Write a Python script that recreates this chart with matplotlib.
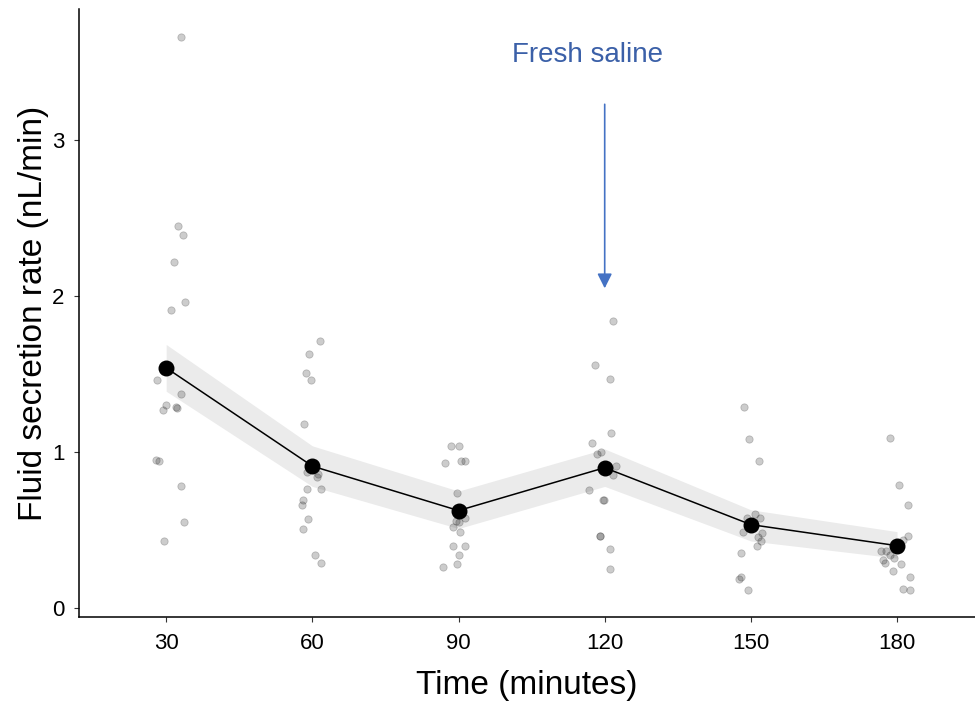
import matplotlib
matplotlib.use("Agg")
import matplotlib.pyplot as plt
import numpy as np

plt.rcParams['font.family'] = ['Liberation Sans', 'DejaVu Sans']

# time points (minutes)
times = [30, 60, 90, 120, 150, 180]

raw_30 = [(3.1, 3.66), (2.4, 2.45), (3.5, 2.39), (1.6, 2.22), (3.8, 1.96), (0.9, 1.91),
          (-1.9, 1.46), (3.1, 1.37), (0.0, 1.30), (-0.6, 1.27), (2.1, 1.29), (2.3, 1.28),
          (-2.0, 0.95), (-1.5, 0.945), (3.1, 0.78), (3.7, 0.55), (-0.4, 0.43)]
raw_60 = [(1.6, 1.71), (-0.6, 1.63), (-1.4, 1.51), (-0.3, 1.46), (-1.8, 1.18),
          (-1.0, 0.87), (1.2, 0.86), (1.0, 0.84), (-1.1, 0.765), (1.8, 0.765),
          (-2.0, 0.69), (-2.2, 0.66), (-0.9, 0.57), (-1.9, 0.505), (0.5, 0.34), (1.8, 0.29)]
raw_90 = [(-1.6, 1.04), (0.0, 1.04), (-2.7, 0.93), (0.6, 0.94), (1.3, 0.945),
          (-0.3, 0.74), (-0.6, 0.56), (0.0, 0.55), (1.3, 0.575), (-1.1, 0.52),
          (0.3, 0.49), (-1.2, 0.40), (1.4, 0.40), (0.0, 0.34), (-0.3, 0.285), (-3.2, 0.26)]
raw_120 = [(1.8, 1.84), (-1.9, 1.56), (1.1, 1.47), (1.3, 1.12), (-2.6, 1.06),
           (-1.6, 0.99), (-0.7, 1.0), (2.4, 0.91), (1.8, 0.85), (-3.2, 0.76),
           (-0.4, 0.69), (-0.2, 0.695), (-1.0, 0.46), (-0.9, 0.465), (1.1, 0.38), (1.1, 0.25)]
raw_150 = [(-1.5, 1.29), (-0.4, 1.085), (1.7, 0.94), (0.8, 0.60), (1.9, 0.575),
           (-0.8, 0.575), (-1.6, 0.485), (2.3, 0.48), (1.4, 0.455), (2.0, 0.43),
           (1.2, 0.395), (-2.0, 0.35), (-2.0, 0.20), (-2.5, 0.185), (-0.6, 0.115)]
raw_180 = [(-1.5, 1.09), (0.4, 0.79), (2.3, 0.66), (2.2, 0.46), (1.2, 0.435),
           (-3.2, 0.365), (-2.2, 0.365), (-1.5, 0.34), (-0.6, 0.32), (-2.9, 0.31),
           (-2.4, 0.29), (0.8, 0.28), (-0.9, 0.235), (2.6, 0.20), (1.2, 0.12), (2.6, 0.115)]
raw = [raw_30, raw_60, raw_90, raw_120, raw_150, raw_180]

# summary: mean and ribbon bounds
means = [1.54, 0.91, 0.625, 0.90, 0.535, 0.40]
lower = [1.39, 0.78, 0.51, 0.78, 0.43, 0.32]
upper = [1.69, 1.04, 0.75, 1.02, 0.63, 0.49]

fig = plt.figure(figsize=(9.75, 7.04), dpi=100)
ax = fig.add_axes([0.081, 0.123, 0.919, 0.864])

for t, pts in zip(times, raw):
    xs = [t + p[0] for p in pts]
    ys = [p[1] for p in pts]
    ax.scatter(xs, ys, s=28, color='black', alpha=0.2, linewidths=0.6, zorder=2)

ax.fill_between(times, lower, upper, color='#ebebeb', linewidth=0, zorder=1)
ax.plot(times, means, color='black', lw=1.1, zorder=3)
ax.scatter(times, means, s=110, color='black', zorder=4)

ax.annotate('', xy=(120, 2.05), xytext=(120, 3.23),
            arrowprops=dict(arrowstyle='-|>', color='#4472C4', lw=1.2,
                            mutation_scale=22, shrinkA=0, shrinkB=0))
ax.text(116.5, 3.545, 'Fresh saline', color='#3b60a8', fontsize=20,
        ha='center', va='center')

ax.set_xlim(12.1, 196)
ax.set_ylim(-0.06, 3.84)
ax.set_xticks(times)
ax.set_yticks([0, 1, 2, 3])
ax.tick_params(labelsize=16, length=3.6, width=0.8,
               color='#333333', labelcolor='black')
ax.tick_params(axis='x', pad=7.5)
ax.tick_params(axis='y', pad=7)
ax.set_xlabel('Time (minutes)', fontsize=24, labelpad=12)
ax.set_ylabel('Fluid secretion rate (nL/min)', fontsize=24, labelpad=2)
for side in ['top', 'right']:
    ax.spines[side].set_visible(False)
for side in ['left', 'bottom']:
    ax.spines[side].set_linewidth(1.1)

fig.savefig('out.png', dpi=100)
